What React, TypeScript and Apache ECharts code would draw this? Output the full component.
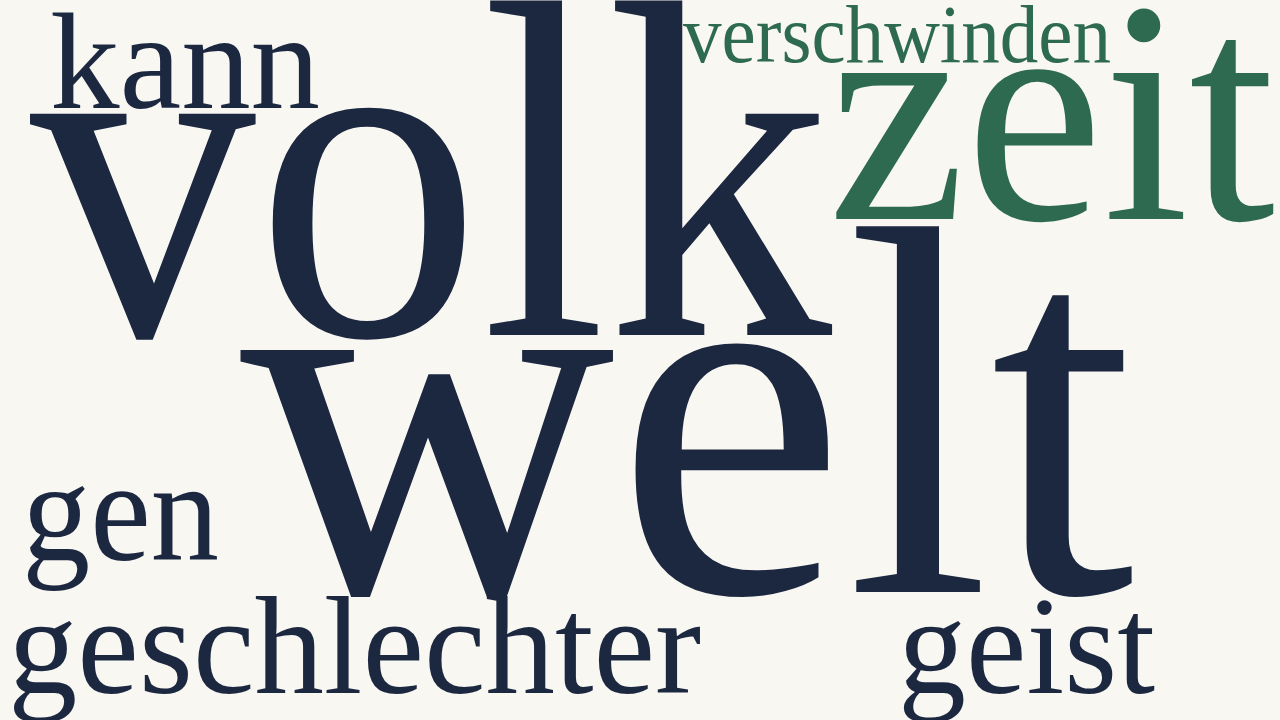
import { useEffect, useRef } from 'react'
import * as echarts from 'echarts'

// word cloud terms and their weights
const words = ['welt', 'volk', 'zeit', 'gen', 'kann', 'geschlechter', 'geist', 'verschwinden']
const weights = [110, 100, 64, 30, 29, 29, 29, 17]
const wordColors = ['#1c2740', '#1c2740', '#2d6a4f', '#1c2740', '#1c2740', '#1c2740', '#1c2740', '#2d6a4f']

// layout: left edge, baseline, font size and target width (px in a 1280x720 frame)
const layoutX = [240, 30, 828, 22, 50, 8, 898, 683]
const layoutY = [592, 335, 219, 560, 108, 693, 693, 62]
const fontSizes = [527, 482, 318, 144, 138, 140, 140, 82]
const widths = [895, 802, 447, 197, 270, 693, 257, 428]

const FONT = '"Liberation Serif", "Times New Roman", serif'

export default function App() {
  const ref = useRef<HTMLDivElement>(null)

  useEffect(() => {
    document.body.style.margin = '0'
    if (!ref.current) return
    const chart = echarts.init(ref.current, null, { renderer: 'svg' })

    const ctx = document.createElement('canvas').getContext('2d')!
    const measure = (text: string, size: number) => {
      ctx.font = `${size}px ${FONT}`
      return ctx.measureText(text).width
    }

    chart.setOption({
      animation: false,
      backgroundColor: '#f8f7f2',
      grid: { left: 0, right: 0, top: 0, bottom: 0 },
      xAxis: { type: 'value', min: 0, max: 1280, show: false },
      yAxis: { type: 'value', min: 0, max: 720, inverse: true, show: false },
      series: [
        {
          type: 'custom',
          coordinateSystem: 'cartesian2d',
          data: words.map((w, i) => ({ name: w, value: [layoutX[i], layoutY[i], weights[i]] })),
          renderItem: (params: any, api: any) => {
            const i = params.dataIndex
            const pt = api.coord([api.value(0), api.value(1)])
            const fs = fontSizes[i]
            const sx = widths[i] / measure(words[i], fs)
            return {
              type: 'text',
              x: pt[0],
              y: pt[1],
              scaleX: sx,
              style: {
                text: words[i],
                x: 0,
                y: -0.3375 * fs,
                align: 'left',
                verticalAlign: 'middle',
                fontSize: fs,
                fontFamily: FONT,
                fill: wordColors[i],
              },
            }
          },
        },
      ],
    })

    return () => chart.dispose()
  }, [])

  return <div ref={ref} style={{ width: 1280, height: 720 }} />
}
